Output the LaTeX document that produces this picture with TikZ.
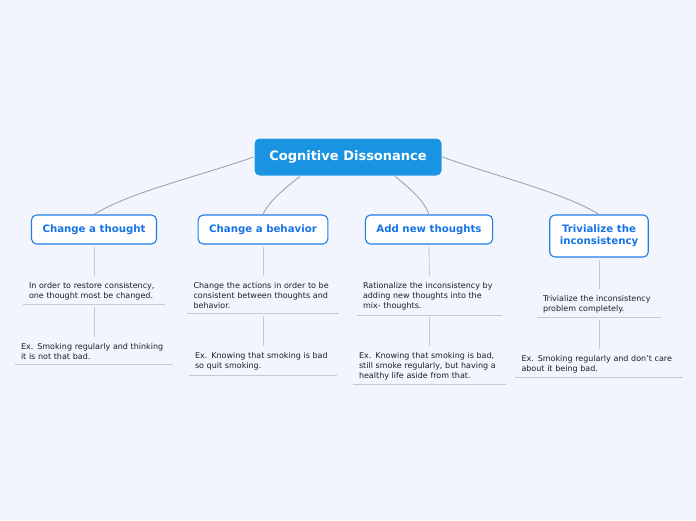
\documentclass[tikz,border=0pt]{standalone}
\usepackage{fontspec}
\setmainfont{DejaVu Sans}
\usetikzlibrary{positioning}
\definecolor{mmbg}{HTML}{F3F5FE}
\definecolor{mmblue}{HTML}{1A94E2}
\definecolor{mmedge}{HTML}{1C7FE6}
\definecolor{mmtext}{HTML}{1573E6}
\definecolor{mmcurve}{HTML}{A0A4B0}
\definecolor{mmline}{HTML}{C6C9D3}
\definecolor{mmink}{HTML}{1E1E1E}

\tikzset{
  central/.style={fill=mmblue, draw=white, line width=1pt, rounded corners=5pt,
    text=white, font=\bfseries\fontsize{13}{15}\selectfont,
    minimum width=188pt, minimum height=38pt},
  topic/.style={fill=white, draw=mmedge, line width=1.1pt, rounded corners=5pt,
    text=mmtext, font=\bfseries\fontsize{10.2}{12}\selectfont, align=center,
    inner xsep=11pt, minimum height=29pt},
  note/.style={text width=#1, align=left, inner xsep=6pt, inner ysep=4.5pt,
    anchor=north, text=mmink, font=\fontsize{8}{10}\selectfont},
  underline/.style={draw=mmline, line width=0.9pt},
  branch/.style={draw=mmcurve, line width=0.9pt},
  stem/.style={draw=mmline, line width=0.9pt, shorten <=2pt, shorten >=2pt}
}

\begin{document}
\begin{tikzpicture}[x=1pt, y=-1pt]
  \fill[mmbg] (0,0) rectangle (696,520);
  \useasboundingbox (0,0) rectangle (696,520);

  \node[central] (cd) at (348,157) {Cognitive Dissonance};

  \node[topic] (thought) at (94,229.5) {Change a thought};
  \node[topic] (behavior) at (263,229.5) {Change a behavior};
  \node[topic] (addnew) at (429,229.5) {Add new thoughts};
  \node[topic, minimum height=42pt, inner xsep=10pt] (trivial) at (599,236) {Trivialize the\\inconsistency};

  \node[note=130pt] (thoughtA) at (94,277.5) {In order to restore consistency,\\one thought most be changed.};
  \node[note=146pt] (thoughtB) at (94,338.5) {Ex. Smoking regularly and thinking\\it is not that bad.};
  \node[note=139pt] (behaviorA) at (263,278) {Change the actions in order to be\\consistent between thoughts and\\behavior.};
  \node[note=136pt] (behaviorB) at (263,348) {Ex. Knowing that smoking is bad\\so quit smoking.};
  \node[note=133pt] (addnewA) at (429.5,278) {Rationalize the inconsistency by\\adding new thoughts into the\\mix- thoughts.};
  \node[note=141pt] (addnewB) at (429.5,347.5) {Ex. Knowing that smoking is bad,\\still smoke regularly, but having a\\healthy life aside from that.};
  \node[note=112pt] (trivialA) at (599,290.5) {Trivialize the inconsistency\\problem completely.};
  \node[note=155pt] (trivialB) at (599,350.5) {Ex. Smoking regularly and don't care\\about it being bad.};

  \draw[branch] (cd.west) .. controls (200,176) and (130,192) .. (thought.north);
  \draw[branch] (cd.south) ++(-48,0) coordinate (cdl) .. controls (285,188) and (268,202) .. (behavior.north);
  \draw[branch] (cd.south) ++(47,0) coordinate (cdr) .. controls (410,188) and (425,202) .. (addnew.north);
  \draw[branch] (cd.east) .. controls (495,176) and (565,193) .. (trivial.north);

  \foreach \t/\a/\b in {thought/thoughtA/thoughtB, behavior/behaviorA/behaviorB,
      addnew/addnewA/addnewB, trivial/trivialA/trivialB} {
    \draw[stem] (\t) -- (\a);
    \draw[stem] (\a) -- (\b);
    \draw[underline] (\a.south west) -- (\a.south east);
    \draw[underline] (\b.south west) -- (\b.south east);
  }
\end{tikzpicture}
\end{document}
